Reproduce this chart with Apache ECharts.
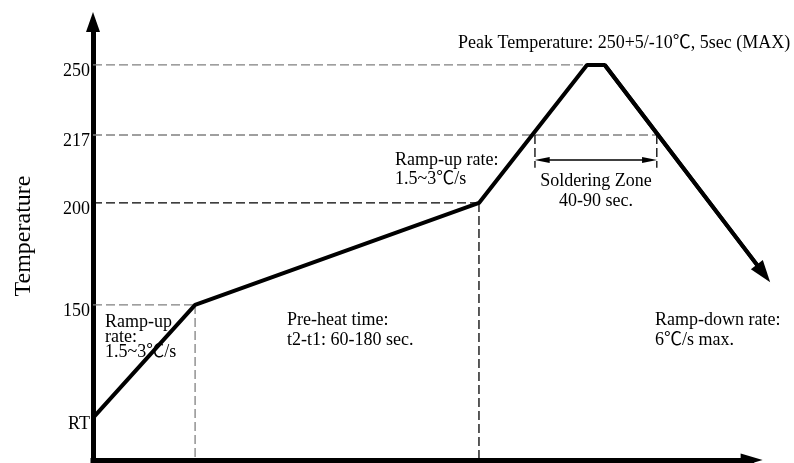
<!DOCTYPE html>
<html>
<head>
    <meta charset="utf-8">
    <title>Reflow Profile</title>
    <script src="https://cdn.jsdelivr.net/npm/echarts@6.0.0/dist/echarts.min.js"></script>
    <style>
        html, body { margin: 0; padding: 0; background: #fff; }
        #main { width: 794px; height: 463px; }
    </style>
</head>
<body>
    <div id="main"></div>
    <script>
        // sketch axes: time and height are schematic units, the temperature axis is not linear
        const tempLabels = ['RT', '150', '200', '217', '250'];
        const tempLevels = [9.6, 35.4, 58.7, 74.2, 90.2];

        // reflow profile: RT -> 150 -> 200 -> peak (250) -> hold -> ramp down
        const profileTime = [0, 15.5, 58.6, 75.0, 77.7, 101.8];
        const profileLevel = [9.6, 35.4, 58.7, 90.2, 90.2, 42.6];

        // soldering zone (time above 217); the arrow heads sit just inside the two marks
        const zoneTime = [67.1, 85.6];
        const zoneArrowTime = [68.2, 84.5];
        const zoneArrowLevel = 68.5;
        const zoneTickLow = 66.7;

        // time axis runs to 100, the view a bit further so the ramp-down arrow fits
        const timeAxisEnd = 100;

        const FONT = '"Liberation Serif", "Noto Sans CJK SC", serif';
        const GRAY = '#808080';
        // arrow heads drawn pointing up, markLine turns them along the line
        const AXIS_HEAD = 'path://M6.5,0 L13,22 L0,22 Z';
        const CURVE_HEAD = 'path://M7.5,0 L15,22 L0,22 Z';
        const ZONE_HEAD = 'path://M3,0 L6,15 L0,15 Z';

        const profileData = profileTime.map((t, i) => [t, profileLevel[i]]);
        const last = profileData.length - 1;

        // guide lines: [x1, y1, x2, y2, colour]
        const guides = [
            [0, tempLevels[4], profileTime[3], tempLevels[4], GRAY],
            [0, tempLevels[3], zoneTime[1], tempLevels[3], GRAY],
            [0, tempLevels[2], profileTime[2], tempLevels[2], '#000'],
            [0, tempLevels[1], profileTime[1], tempLevels[1], GRAY],
            [profileTime[1], tempLevels[1], profileTime[1], 0, GRAY],
            [profileTime[2], tempLevels[2], profileTime[2], 0, '#000'],
            [zoneTime[0], tempLevels[3], zoneTime[0], zoneTickLow, '#000'],
            [zoneTime[1], tempLevels[3], zoneTime[1], zoneTickLow, '#000']
        ];

        const guideSeries = guides.map(g => ({
            type: 'line',
            data: [[g[0], g[1]], [g[2], g[3]]],
            symbol: 'none',
            silent: true,
            z: 1,
            lineStyle: { color: g[4], width: 1.3, type: [9, 4] }
        }));

        const chart = echarts.init(document.getElementById('main'));

        const option = {
            animation: false,
            grid: { left: 93, right: 16, top: 22, bottom: 3, outerBoundsMode: 'none' },
            xAxis: {
                type: 'value',
                min: 0,
                max: 104,
                axisLine: { show: false },
                axisTick: { show: false },
                axisLabel: { show: false },
                splitLine: { show: false }
            },
            yAxis: {
                type: 'value',
                min: 0,
                max: 100,
                name: 'Temperature',
                nameLocation: 'middle',
                nameRotate: 90,
                nameGap: 57,
                nameTextStyle: { fontFamily: FONT, fontSize: 24, color: '#000', padding: [0, 0, 0, 10] },
                axisLine: {
                    lineStyle: { color: '#000', width: 5 },
                    symbol: ['none', 'triangle'],
                    symbolSize: [14, 20]
                },
                axisTick: { show: false },
                axisLabel: {
                    customValues: tempLevels,
                    formatter: v => tempLabels[tempLevels.indexOf(v)],
                    fontFamily: FONT,
                    fontSize: 18,
                    color: '#000',
                    margin: 3,
                    verticalAlign: 'top',
                    lineHeight: 13
                },
                splitLine: { show: false }
            },
            series: guideSeries.concat([
                {
                    // time axis with its arrow
                    type: 'line',
                    data: [],
                    symbol: 'none',
                    markLine: {
                        silent: true,
                        symbol: ['none', AXIS_HEAD],
                        symbolSize: 22,
                        symbolKeepAspect: true,
                        label: { show: false },
                        lineStyle: { color: '#000', width: 5, type: 'solid', cap: 'square' },
                        data: [[{ coord: [0, 0] }, { coord: [timeAxisEnd, 0] }]]
                    }
                },
                {
                    type: 'line',
                    data: profileData,
                    symbol: 'none',
                    z: 3,
                    lineStyle: { color: '#000', width: 4 },
                    markLine: {
                        silent: true,
                        symbol: ['none', CURVE_HEAD],
                        symbolSize: 22,
                        symbolKeepAspect: true,
                        label: { show: false },
                        lineStyle: { color: '#000', width: 4, type: 'solid' },
                        data: [[{ coord: profileData[last - 1] }, { coord: profileData[last] }]]
                    }
                },
                {
                    type: 'line',
                    data: [],
                    symbol: 'none',
                    markLine: {
                        silent: true,
                        symbol: [ZONE_HEAD, ZONE_HEAD],
                        symbolSize: 15,
                        symbolKeepAspect: true,
                        label: { show: false },
                        lineStyle: { color: '#000', width: 1.5, type: 'solid' },
                        data: [[{ coord: [zoneTime[0], zoneArrowLevel] }, { coord: [zoneTime[1], zoneArrowLevel] }]]
                    }
                }
            ]),
            graphic: [
                { type: 'text', left: 458, top: 34, style: { text: 'Peak Temperature: 250+5/-10℃, 5sec (MAX)', font: '18px ' + FONT, fill: '#000' } },
                { type: 'text', left: 395, top: 151, style: { text: 'Ramp-up rate:\n1.5~3℃/s', font: '18px ' + FONT, lineHeight: 19, fill: '#000' } },
                { type: 'text', x: 596, y: 171, style: { text: 'Soldering Zone\n40-90 sec.', font: '18px ' + FONT, lineHeight: 20, align: 'center', fill: '#000' } },
                { type: 'text', left: 105, top: 313, style: { text: 'Ramp-up\nrate:\n1.5~3℃/s', font: '18px ' + FONT, lineHeight: 15, fill: '#000' } },
                { type: 'text', left: 287, top: 310, style: { text: 'Pre-heat time:\nt2-t1: 60-180 sec.', font: '18px ' + FONT, lineHeight: 20, fill: '#000' } },
                { type: 'text', left: 655, top: 310, style: { text: 'Ramp-down rate:\n6℃/s max.', font: '18px ' + FONT, lineHeight: 20, fill: '#000' } }
            ]
        };

        // the two-headed arrow runs between the head centres
        option.series[option.series.length - 1].markLine.data = [[
            { coord: [zoneArrowTime[0], zoneArrowLevel] },
            { coord: [zoneArrowTime[1], zoneArrowLevel] }
        ]];

        chart.setOption(option);
    </script>
</body>
</html>
